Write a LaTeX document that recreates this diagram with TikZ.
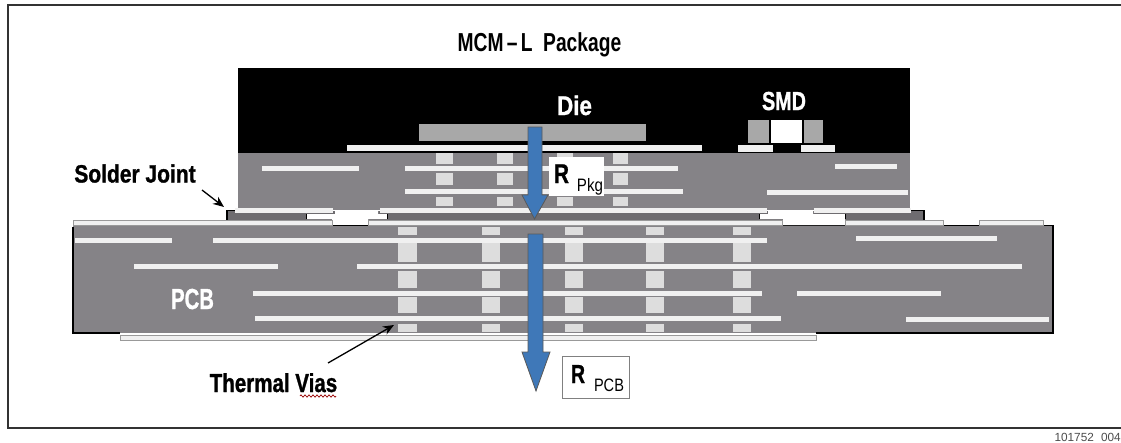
\documentclass[tikz,border=0pt]{standalone}
\usepackage{fontspec}
\setmainfont{Liberation Sans}
\newfontfamily\heavyfont[BoldFeatures={FakeBold=1.2}]{Liberation Sans}
\usetikzlibrary{arrows.meta,decorations.pathmorphing}
\definecolor{pkggray}{HTML}{858387}
\definecolor{bandgray}{HTML}{6E6C70}
\definecolor{diegray}{HTML}{A8A8A8}
\definecolor{viagray}{HTML}{DDDDDD}
\definecolor{tracew}{HTML}{F0F0F0}
\definecolor{arrowblue}{HTML}{3F78B8}
\definecolor{framegray}{HTML}{333333}
\tikzset{
 trace/.style={fill=tracew,draw=none},
 surftrace/.style={fill=tracew,draw=gray!80,line width=.7pt},
 flow/.style={fill=arrowblue,draw=black!65,line width=.8pt},
 lbl/.style={inner sep=0pt,anchor=base},
 lead/.style={draw=black,line width=1.3pt,-{Stealth[length=11pt,width=9pt]}},
}
% \htext{font size}{x scale}{text}: heavy condensed label
\newcommand{\htext}[3]{\scalebox{#2}[1]{\fontsize{#1pt}{#1pt}\selectfont\heavyfont\bfseries #3}}
\newcommand{\stext}[3]{\scalebox{#2}[1]{\fontsize{#1pt}{#1pt}\selectfont #3}}
\newcommand{\hb}[3]{\fill[trace] (#1,#3-2.5) rectangle (#2,#3+2.5);}
\begin{document}
\begin{tikzpicture}[x=1pt,y=-1pt]
\useasboundingbox (0,0) rectangle (1121,442);
\fill[white] (0,0) rectangle (1121,442);
\draw[framegray,line width=1.5pt] (1121,5) -- (8,5) -- (8,428) -- (1121,428);
% package
\fill[black] (238,68) rectangle (910,153);
\fill[pkggray] (238,153) rectangle (910,210);
% solder layer
\fill[bandgray] (227,211) rectangle (924,220);
\draw[black,line width=1.2pt] (227,219.5) -- (227,210.5) -- (235,210.5);
\draw[black,line width=1.2pt] (911,210.5) -- (924,210.5) -- (924,219.5);
% PCB
\fill[pkggray] (73,225) -- (1053,225) -- (1053,333) -- (73,333) -- cycle;
\draw[black,line width=1.2pt] (73,227) -- (73,333) -- (120,333);
\draw[black,line width=1.2pt] (816,333) -- (1053,333) -- (1053,225.6) -- (1043,225.6);
\draw[black,line width=1.2pt] (783,225.6) -- (845,225.6);
\draw[black,line width=1.2pt] (943,225.6) -- (979,225.6);
\fill[surftrace] (120,335) rectangle (816,340.5);
% die
\fill[diegray] (419,124) rectangle (646,141);
\fill[tracew] (347,145) rectangle (702,151);
% SMD
\fill[diegray] (748,120) rectangle (769,143);
\fill[diegray] (804,120) rectangle (823,143);
\fill[white] (771,120) rectangle (802,143);
\fill[tracew] (738,145) rectangle (773,152);
\fill[tracew] (801,145) rectangle (835,152);
% package vias
\foreach \x/\w in {436/17,497/16,557/16,613/15}{
 \fill[viagray] (\x,153) rectangle ++(\w,11);
 \fill[viagray] (\x,173) rectangle ++(\w,12);
 \fill[viagray] (\x,197) rectangle ++(\w,9);
}
% package traces
\hb{262}{359}{168}
\hb{405}{678}{168}
\hb{405}{683}{191.5}
\hb{835}{897}{166}
\hb{767}{908}{192}
\hb{235}{333}{210.5}
\hb{380}{767}{210.5}
\hb{814}{911}{210.5}
% surface pads
\fill[white] (335,210) -- (378,210) -- (378,214) -- (387,214) -- (387,219) -- (368,219) -- (368,225) -- (332,225) -- (332,219) -- (307,219) -- (307,214) -- (335,214) -- cycle;
\fill[white] (768,210) -- (813,210) -- (813,214) -- (845,214) -- (845,225) -- (783,225) -- (783,219) -- (760,219) -- (760,214) -- (768,214) -- cycle;
\fill[black] (332,224.8) rectangle (368,226.2);
\fill[black] (306.2,214) rectangle (307,219);
\fill[black] (387,214) rectangle (387.8,219);
\fill[black] (759.2,214) rectangle (760,219);
\fill[black] (845,214) rectangle (846,219);
% PCB surface traces
\fill[surftrace] (73,220.3) rectangle (332,225);
\fill[surftrace] (368,220.3) rectangle (782,225);
\fill[surftrace] (845.5,220) rectangle (943,225);
\fill[surftrace] (979.5,220) rectangle (1043,225);
% PCB vias
\foreach \x/\w in {398/19,482/18,565/18,646/18,733/18}{
 \fill[viagray] (\x,227) rectangle ++(\w,8);
 \fill[viagray] (\x,243) rectangle ++(\w,19);
 \fill[viagray] (\x,271) rectangle ++(\w,17);
 \fill[viagray] (\x,297) rectangle ++(\w,16);
 \fill[viagray] (\x,324) rectangle ++(\w,8);
}
% PCB traces
\hb{75}{172}{240}
\hb{213}{767}{240}
\hb{856}{997}{238}
\hb{134}{278}{266}
\hb{357}{1022}{266}
\hb{253}{762}{293}
\hb{797}{941}{293}
\hb{255}{781}{318.5}
\hb{906}{1049}{319}
% R boxes
\node[fill=white,minimum width=55pt,minimum height=39pt,inner sep=0pt] (rpkgbox) at (576.5,176.5) {};
\node[lbl] (rpkg) at (561.5,183) {\htext{27}{0.77}{R}};
\node[lbl] (rpkgsub) at (590,191) {\stext{18}{0.84}{Pkg}};
\node[draw=gray,line width=.9pt,minimum width=67pt,minimum height=42pt,inner sep=0pt,fill=white] (rpcbbox) at (595.5,377) {};
\node[lbl] (rpcb) at (578,383) {\htext{26}{0.75}{R}};
\node[lbl] (rpcbsub) at (609,391) {\stext{18}{0.81}{PCB}};
% flow arrows
\draw[flow] (528,127) -- (542,127) -- (542,195) -- (548,195) -- (534.5,219) -- (522,195) -- (528,195) -- cycle;
\draw[flow] (528,234) -- (543,234) -- (543,352) -- (550,352) -- (536,391) -- (522,352) -- (528,352) -- cycle;
% labels
\node[lbl] (title) at (539.5,51) {\scalebox{0.74}[1]{\fontsize{26pt}{26pt}\selectfont\bfseries MCM\,--\,L\;\;Package}};
\node[lbl,text=white] (die) at (574.5,115) {\htext{27}{0.83}{Die}};
\node[lbl,text=white] (smd) at (784,110) {\htext{26}{0.76}{SMD}};
\node[lbl,text=white] (pcb) at (192.5,309) {\htext{29}{0.70}{PCB}};
\node[lbl] (sj) at (135,182.5) {\htext{25}{0.84}{Solder Joint}};
\node[lbl] (tv) at (273.5,392) {\htext{26}{0.79}{Thermal Vias}};
\coordinate (sjtip) at (224,207);
\coordinate (sjtail) at (202,190);
\coordinate (tvtip) at (394,325);
\coordinate (tvtail) at (328,363);
\draw[lead] (sjtail) -- (sjtip);
\draw[lead] (tvtail) -- (tvtip);
\draw[red!60!black,line width=.7pt,decorate,decoration={zigzag,segment length=4pt,amplitude=1.2pt}] (300,396) -- (336,396);
\node[inner sep=0pt,anchor=base east,font=\fontsize{11.8pt}{11.8pt}\selectfont,text=black!70] (code) at (1121,441) {101752\,\, 004};
\end{tikzpicture}
\end{document}
